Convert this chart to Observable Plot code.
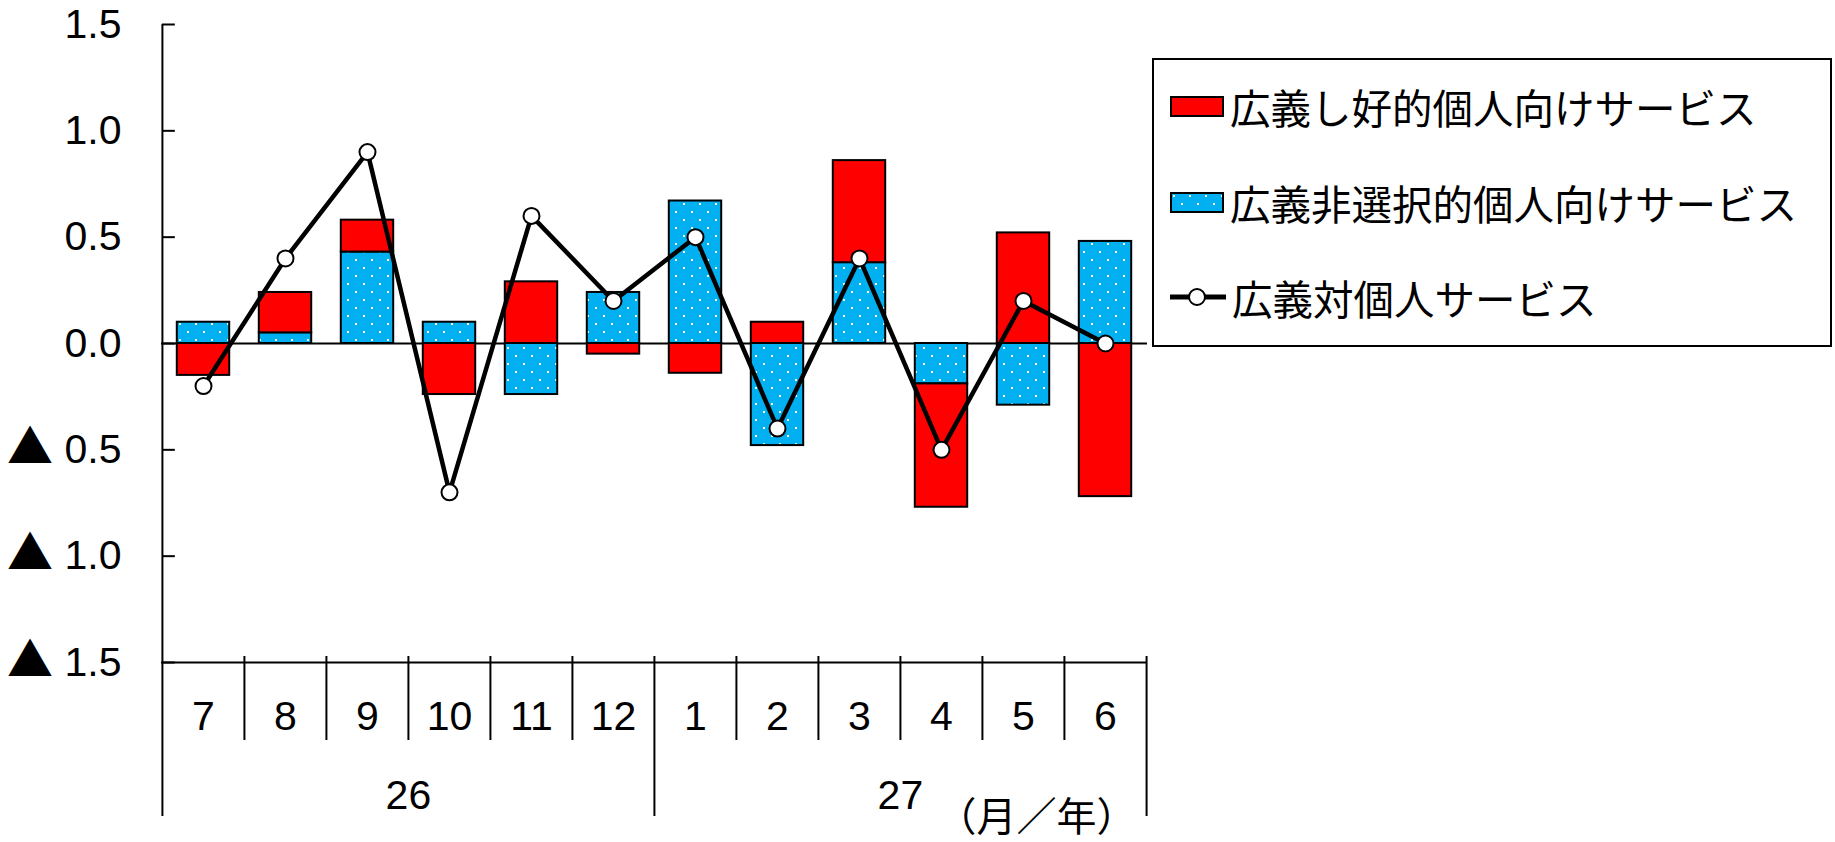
<!DOCTYPE html>
<html><head><meta charset="utf-8">
<script src="https://cdn.jsdelivr.net/npm/d3@7"></script>
<script src="https://cdn.jsdelivr.net/npm/@observablehq/plot@0.6"></script>
<style>
body{margin:0;background:#fff;}
#wrap{position:relative;width:1835px;height:842px;overflow:hidden;}
#chart svg{display:block;}
#legend{position:absolute;left:1152px;top:58px;width:680px;height:289px;border:2px solid #000;box-sizing:border-box;font-family:"Noto Sans CJK JP",sans-serif;font-size:40.5px;color:#000;background:#fff;}
.row{position:absolute;left:16px;height:50px;display:flex;align-items:center;white-space:nowrap;}
.row svg{margin-right:6px;flex:none;}
</style></head>
<body><div id="wrap"><div id="chart"></div><div id="legend"></div></div>
<script>
// ---- data ----
const months = ["7","8","9","10","11","12","1","2","3","4","5","6"];
const yearLabels = ["26","27"];
const yearMidMonth = ["10","4"];      // group centre = left edge of this month
const yearStartMonth = ["7","1"];
const seriesNames = ["広義し好的個人向けサービス","広義非選択的個人向けサービス","広義対個人サービス"];
const selective =    [-0.15, 0.19, 0.15, -0.24, 0.29, -0.05, -0.14, 0.10, 0.48, -0.58, 0.52, -0.72];
const nonSelective = [ 0.10, 0.05, 0.43,  0.10,-0.24,  0.24,  0.67,-0.48, 0.38, -0.19,-0.29,  0.48];
const total =        [-0.2,  0.4,  0.9,  -0.7,  0.6,   0.2,   0.5, -0.4,  0.4,  -0.5,  0.2,   0.0];
const yTicks = [-1.5, -1.0, -0.5, 0.0, 0.5, 1.0, 1.5];
const unitLabel = "（月／年）";

// ---- layout ----
const W = 1835, H = 842;
const mL = 161, mR = 688, mT = 24, mB = 180;
const step = (W - mL - mR) / months.length;
const barInset = step * 0.18;
const RED = "#FF0000", BLUE = "#00B0F0";
const fmt = d => d < 0 ? "▲ " + (-d).toFixed(1) : d.toFixed(1);

const bars = months.flatMap((m, i) => [
  {month: m, s: 1, value: nonSelective[i]},
  {month: m, s: 0, value: selective[i]}
]);
const line = months.map((m, i) => ({month: m, v: total[i]}));

const chart = Plot.plot({
  width: W, height: H,
  marginLeft: mL, marginRight: mR, marginTop: mT, marginBottom: mB,
  style: {fontFamily: "'Liberation Sans', 'Noto Sans CJK JP', sans-serif", fontSize: "41px", background: "#fff", color: "#000"},
  x: {type: "band", domain: months, padding: 0, axis: null},
  y: {domain: [-1.5, 1.5], axis: null},
  color: {type: "identity"},
  marks: [
    Plot.axisY({ticks: yTicks, tickFormat: fmt, tickSize: 0, tickPadding: 40, fontSize: 41}),
    Plot.tickY(yTicks, {y: d => d, x: () => months[0], insetRight: step - 13, stroke: "#000", strokeWidth: 2}),
    Plot.ruleY([0, -1.5], {stroke: "#000", strokeWidth: 2}),
    Plot.barY(bars, {x: "month", y: "value", fill: d => d.s ? "url(#dots)" : RED,
      stroke: "#000", strokeWidth: 2, insetLeft: barInset, insetRight: barInset}),
    Plot.line(line, {x: "month", y: "v", stroke: "#000", strokeWidth: 4.5}),
    Plot.dot(line, {x: "month", y: "v", r: 8, fill: "#fff", stroke: "#000", strokeWidth: 2}),
    // left axis line
    Plot.ruleX([months[0]], {x: d => d, y1: 1.5, y2: -1.5, dx: -step / 2, insetBottom: -154, stroke: "#000", strokeWidth: 2}),
    // month separators
    Plot.ruleX(months.slice(1).filter(m => !yearStartMonth.includes(m)), {x: d => d, y1: -1.5, y2: -1.5, dx: -step / 2, insetTop: -6, insetBottom: -78, stroke: "#000", strokeWidth: 2}),
    // year separators
    Plot.ruleX(yearStartMonth.slice(1), {x: d => d, y1: -1.5, y2: -1.5, dx: -step / 2, insetTop: -6, insetBottom: -154, stroke: "#000", strokeWidth: 2}),
    Plot.ruleX([months[months.length - 1]], {x: d => d, y1: -1.5, y2: -1.5, dx: step / 2, insetTop: -6, insetBottom: -154, stroke: "#000", strokeWidth: 2}),
    // labels
    Plot.text(months, {x: d => d, y: () => -1.5, dy: 54, text: d => d, fontSize: 41}),
    Plot.text(yearLabels, {x: (d, i) => yearMidMonth[i], y: () => -1.5, dx: -step / 2, dy: 133, text: d => d, fontSize: 41}),
    Plot.text([unitLabel], {x: () => months[months.length - 1], y: () => -1.5, dx: step / 2 - 10, dy: 156, text: d => d, textAnchor: "end", fontSize: 40, letterSpacing: 2, fontFamily: "'Noto Sans CJK JP', sans-serif"})
  ]
});

d3.select(chart).insert("defs", ":first-child").html(
  `<pattern id="dots" width="16" height="16" patternUnits="userSpaceOnUse">
     <rect width="16" height="16" fill="${BLUE}"/>
     <rect x="3" y="3" width="2" height="2" fill="#fff"/>
     <rect x="11" y="11" width="2" height="2" fill="#fff"/>
   </pattern>`);

// larger CJK-style triangle for negative tick labels
d3.select(chart).selectAll("text").filter(function() {
  return this.childElementCount === 0 && this.textContent.startsWith("▲");
}).each(function() {
  const rest = this.textContent.slice(1);
  this.textContent = "";
  const t = d3.select(this);
  t.append("tspan").attr("font-family", "'Noto Sans CJK JP', sans-serif").attr("font-size", 46).text("▲");
  t.append("tspan").text(rest);
});
document.getElementById("chart").appendChild(chart);

// ---- legend ----
const swatches = [
  `<svg width="54" height="21"><rect x="1" y="1" width="52" height="19" fill="${RED}" stroke="#000" stroke-width="2"/></svg>`,
  `<svg width="54" height="21"><rect x="1" y="1" width="52" height="19" fill="url(#dots)" stroke="#000" stroke-width="2"/></svg>`,
  `<svg width="56" height="22"><line x1="0" y1="11" x2="56" y2="11" stroke="#000" stroke-width="5"/><circle cx="27" cy="11" r="8" fill="#fff" stroke="#000" stroke-width="2"/></svg>`
];
const rowTops = [21, 117, 212];
const legend = document.getElementById("legend");
seriesNames.forEach((name, i) => {
  const row = document.createElement("div");
  row.className = "row";
  row.style.top = rowTops[i] + "px";
  row.innerHTML = swatches[i] + `<span>${name}</span>`;
  legend.appendChild(row);
});
</script>
</body></html>
